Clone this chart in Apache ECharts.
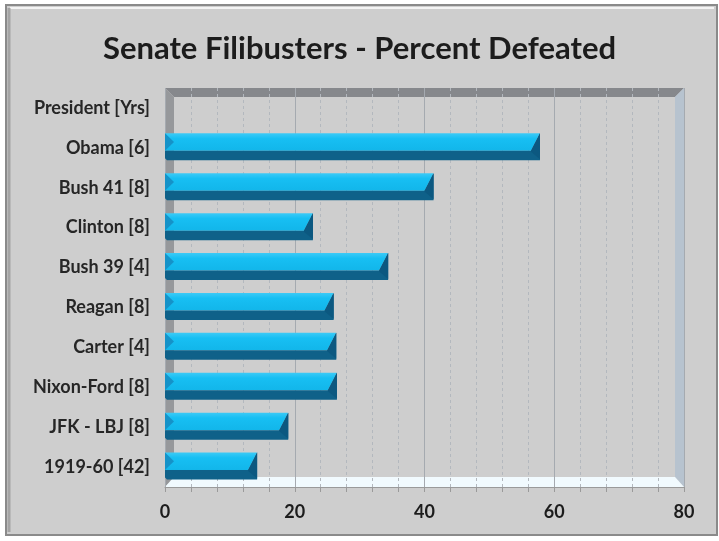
<!DOCTYPE html>
<html>
<head>
<meta charset="utf-8">
<script src="https://cdn.jsdelivr.net/npm/echarts@6/dist/echarts.min.js"></script>
<style>
html,body{margin:0;padding:0;background:#ffffff;}
#chart{width:719px;height:541px;}
</style>
</head>
<body>
<div id="chart"></div>
<script>
// ---- data ----
const titleText = 'Senate Filibusters - Percent Defeated';
const categories = ['President [Yrs]', 'Obama [6]', 'Bush 41 [8]', 'Clinton [8]', 'Bush 39 [4]', 'Reagan [8]', 'Carter [4]', 'Nixon-Ford [8]', 'JFK - LBJ [8]', '1919-60 [42]'];
const percentDefeated = [null, 57.8, 41.4, 22.8, 34.4, 26.0, 26.4, 26.5, 19.0, 14.2];
const xTicks = [0, 20, 40, 60, 80];

// ---- layout ----
const G = {left: 165, right: 35, top: 88, bottom: 54};
const W = 719, H = 541;
const gx0 = G.left, gx1 = W - G.right, gy0 = G.top, gy1 = H - G.bottom;
const dep = 9;

const chart = echarts.init(document.getElementById('chart'), null, {renderer: 'canvas'});

const seriesData = [];
percentDefeated.forEach((v, i) => { if (v !== null) seriesData.push([v, i]); });

const option = {
  backgroundColor: '#ffffff',
  animation: false,
  title: {
    text: titleText, left: 'center', top: 28,
    textStyle: {fontFamily: 'Lato', fontWeight: 'bold', fontSize: 31, color: '#1c1c1c'}
  },
  graphic: [
    {type: 'rect', z: -10, shape: {x: 6, y: 5, width: 711, height: 530},
     style: {fill: '#cecece', stroke: '#8a8a8a', lineWidth: 2}},
    {type: 'line', z: -9, shape: {x1: 10, y1: 8, x2: 714, y2: 8}, style: {stroke: '#f4f4f4', lineWidth: 2}},
    {type: 'line', z: -9, shape: {x1: 9, y1: 8, x2: 9, y2: 532}, style: {stroke: '#a4a4a4', lineWidth: 3}},
    {type: 'polygon', z: -5, shape: {points: [[gx0, gy0], [gx1, gy0], [gx1 - dep, gy0 + dep], [gx0 + dep, gy0 + dep]]}, style: {fill: '#86888c'}},
    {type: 'polygon', z: -5, shape: {points: [[gx0, gy0], [gx0 + dep, gy0 + dep], [gx0 + dep, gy1 - 10], [gx0, gy1]]}, style: {fill: '#96989b'}},
    {type: 'polygon', z: -5, shape: {points: [[gx1 - dep, gy0 + dep], [gx1, gy0], [gx1, gy1], [gx1 - dep, gy1 - 10]]}, style: {fill: '#b7c3cf'}},
    {type: 'polygon', z: -5, shape: {points: [[gx0 + dep, gy1 - 10], [gx1 - dep, gy1 - 10], [gx1, gy1], [gx0, gy1]]}, style: {fill: '#f1fafe'}}
  ],
  grid: {left: G.left, right: G.right, top: G.top, bottom: G.bottom, show: true, backgroundColor: '#e9f3fd', borderWidth: 0, z: -20},
  xAxis: {
    type: 'value', min: xTicks[0], max: xTicks[xTicks.length - 1], interval: 20, z: 5,
    axisLine: {show: true, lineStyle: {color: '#9a9a9a', width: 1}},
    axisTick: {show: true, length: 5, lineStyle: {color: '#9a9a9a'}},
    minorTick: {show: true, splitNumber: 5, length: 5, lineStyle: {color: '#9a9a9a'}},
    splitLine: {show: true, lineStyle: {color: '#a5aab0', width: 1}},
    minorSplitLine: {show: true, lineStyle: {color: '#b3b8be', width: 1, type: [3, 3]}},
    axisLabel: {margin: 16, fontFamily: 'Lato', fontWeight: 'bold', fontSize: 18, color: '#1c1c1c'}
  },
  yAxis: {
    type: 'category', data: categories, inverse: true,
    axisLine: {show: false}, axisTick: {show: false}, splitLine: {show: false},
    axisLabel: {margin: 15, fontFamily: 'Lato', fontWeight: 'bold', fontSize: 18, color: '#262626'}
  },
  series: [{
    type: 'custom', z: 10,
    encode: {x: 0, y: 1},
    data: seriesData,
    renderItem: function (params, api) {
      const v = api.value(0), c = api.value(1);
      const s = api.coord([0, c]);
      const e = api.coord([v, c]);
      const x0 = s[0], x1 = e[0], cy = s[1];
      const top = cy - 14.5, mid = cy + 3, bot = cy + 12.5;
      const d = 9;
      return {
        type: 'group',
        children: [
          {type: 'polygon', shape: {points: [[x0, top], [x1, top], [x1 - d, mid], [x0, mid]]},
           style: {fill: new echarts.graphic.LinearGradient(0, 0, 0, 1, [{offset: 0, color: '#3ccaf6'}, {offset: 0.3, color: '#17bff3'}, {offset: 1, color: '#12b6ea'}])}},
          {type: 'polygon', shape: {points: [[x0, mid], [x1 - d, mid], [x1, top], [x1, bot], [x0 + 2, bot], [x0, bot - 2]]},
           style: {fill: '#0f6189'}},
          {type: 'polygon', shape: {points: [[x1 - d, mid], [x1, top], [x1, bot - 1], [x1 - d, mid + 1]]},
           style: {fill: '#0c5880'}},
          {type: 'polygon', shape: {points: [[x0, top], [x0 + 9, (top + mid) / 2], [x0, mid]]},
           style: {fill: '#1592c8'}}
        ]
      };
    }
  }]
};
chart.setOption(option);
</script>
</body>
</html>
